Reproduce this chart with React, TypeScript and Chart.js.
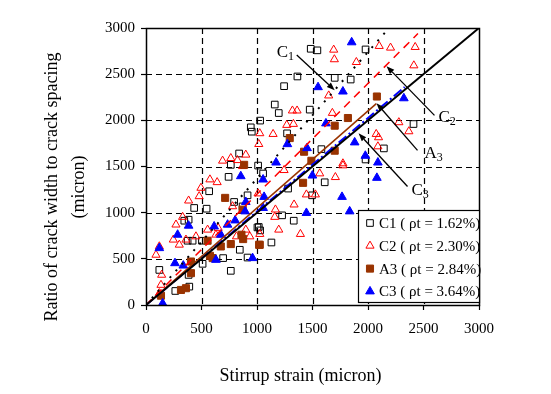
import React, { useEffect, useRef } from "react";
import { Chart, registerables } from "chart.js";

Chart.register(...registerables);

const FONT = "'Liberation Serif', 'Times New Roman', serif";

// ---- data (stirrup strain, micron) vs (crack width / crack spacing, micron)
const c1Strain = [1484, 1544, 1978, 1364, 1700, 1844, 1244, 1160, 1196, 1475, 1028, 1271, 1580, 2410, 2143, 1055, 1010, 1280, 1610, 1496, 1226, 1331, 1016, 1028, 1130, 569, 744, 434, 546, 384, 345, 420, 375, 504, 510, 120, 384, 764, 695, 915, 264, 390, 794, 870, 845, 1004, 915, 944, 953, 839, 764, 1978];
const c1Ratio = [2775, 2758, 2768, 2475, 2460, 2442, 2370, 2171, 2079, 2116, 1997, 1859, 1688, 1960, 1696, 1424, 1510, 1261, 1329, 1188, 971, 913, 845, 808, 677, 1232, 1388, 1051, 1043, 924, 913, 696, 696, 696, 446, 380, 326, 370, 508, 514, 152, 199, 1116, 1068, 598, 840, 1188, 1924, 1877, 1641, 1518, 1576];

const c2Strain = [1691, 1697, 1895, 1646, 1319, 1361, 1679, 1268, 1328, 1025, 1145, 1016, 1774, 2101, 2203, 2425, 2413, 2278, 2368, 2074, 2095, 2089, 1244, 1565, 1706, 1774, 1334, 1526, 1445, 1166, 1160, 1196, 1391, 1025, 1010, 576, 495, 479, 384, 330, 270, 246, 300, 360, 450, 555, 630, 899, 935, 90, 120, 135, 120, 780, 870, 899, 690, 764, 824, 815, 650, 141, 641];
const c2Ratio = [2764, 2660, 2630, 2268, 2105, 2105, 2079, 1949, 1960, 1859, 1851, 1742, 1533, 2804, 2786, 2793, 2594, 1978, 1880, 1851, 1815, 1717, 1460, 1424, 1384, 1511, 1087, 1196, 1196, 1033, 953, 815, 768, 768, 1207, 1359, 1268, 1177, 1130, 953, 870, 707, 652, 707, 742, 815, 761, 815, 742, 543, 634, 217, 127, 1068, 1503, 1627, 1562, 1590, 1568, 742, 834, 326, 1329];

const a3Strain = [1819, 1700, 1295, 1424, 1700, 1490, 2080, 1415, 1025, 713, 870, 555, 674, 764, 600, 860, 875, 1019, 405, 405, 360, 315, 135, 884, 576];
const a3Ratio = [2025, 1942, 1808, 1660, 1671, 1562, 2258, 1323, 652, 1160, 1033, 696, 634, 660, 508, 761, 714, 652, 471, 345, 182, 163, 101, 1518, 533];

const c3Strain = [1853, 1550, 1774, 1621, 1880, 1274, 1451, 1976, 1172, 2323, 2089, 2080, 1499, 1766, 1835, 1445, 1064, 1055, 1055, 854, 120, 261, 336, 384, 285, 614, 735, 803, 674, 630, 899, 893, 960, 150];
const c3Ratio = [2845, 2359, 2312, 1967, 1761, 1742, 1699, 1616, 1543, 2239, 1543, 1377, 1402, 1171, 1014, 997, 1171, 1051, 1359, 1395, 616, 453, 427, 859, 761, 851, 870, 916, 761, 489, 1116, 1014, 508, 18];

// fitted trend lines (end points)
const c1FitX = [0, 2190];
const c1FitY = [0, 3000];
const c2FitX = [0, 2450];
const c2FitY = [0, 2940];
const a3FitX = [0, 2075];
const a3FitY = [0, 2180];
const c3FitX = [0, 2330];
const c3FitY = [0, 2360];
const equalX = [0, 3000];
const equalY = [0, 3000];

const xTicks = [0, 500, 1000, 1500, 2000, 2500, 3000];
const yTicks = [0, 500, 1000, 1500, 2000, 2500, 3000];

const seriesNames = ["C1 ( ρt = 1.62%)", "C2 ( ρt = 2.30%)", "A3 ( ρt = 2.84%)", "C3 ( ρt = 3.64%)"];

// annotations: letter, subscript, label anchor, arrow tail, arrow head (data units)
const annLetter = ["C", "C", "A", "C"];
const annSub = ["1", "2", "3", "3"];
const annLabelX = [1178, 2635, 2509, 2392];
const annLabelY = [2685, 1978, 1590, 1196];
const annTailX = [1358, 2599, 2446, 2356];
const annTailY = [2707, 2054, 1674, 1283];
const annHeadX = [1700, 2167, 2077, 1915];
const annHeadY = [2326, 2587, 2185, 1859];

const RED = "#ff0000";
const BROWN = "#993300";
const BLUE = "#0000ff";

const zip = (xs: number[], ys: number[]) => xs.map((x, i) => ({ x, y: ys[i] }));

function drawMarker(ctx: CanvasRenderingContext2D, kind: number, cx: number, cy: number) {
  const r = kind >= 2 ? 5 : 4.7;
  ctx.save();
  ctx.lineWidth = 1;
  ctx.beginPath();
  if (kind === 0 || kind === 2) {
    const s = Math.SQRT1_2 * r;
    ctx.rect(cx - s, cy - s, 2 * s, 2 * s);
  } else {
    ctx.moveTo(cx, cy - r);
    ctx.lineTo(cx + r * Math.cos(Math.PI / 6), cy + r * 0.5);
    ctx.lineTo(cx - r * Math.cos(Math.PI / 6), cy + r * 0.5);
    ctx.closePath();
  }
  const col = ["#000000", RED, BROWN, BLUE][kind];
  ctx.strokeStyle = col;
  if (kind >= 2) {
    ctx.fillStyle = col;
    ctx.fill();
  }
  ctx.stroke();
  ctx.restore();
}

const overlay = {
  id: "overlay",
  beforeDatasetsDraw(chart: any) {
    const { ctx, chartArea: a, scales } = chart;
    const xs = scales.x;
    const ys = scales.y;
    ctx.save();
    ctx.strokeStyle = "#000";
    ctx.lineWidth = 1.2;
    ctx.setLineDash([6, 4]);
    for (const v of xTicks) {
      if (v <= 0 || v >= 3000) continue;
      const px = Math.round(xs.getPixelForValue(v)) + 0.5;
      ctx.beginPath();
      ctx.moveTo(px, a.top);
      ctx.lineTo(px, a.bottom);
      ctx.stroke();
    }
    for (const v of yTicks) {
      if (v <= 0 || v >= 3000) continue;
      const py = Math.round(ys.getPixelForValue(v)) + 0.5;
      ctx.beginPath();
      ctx.moveTo(a.left, py);
      ctx.lineTo(a.right, py);
      ctx.stroke();
    }
    ctx.restore();
  },
  afterDraw(chart: any) {
    const { ctx, chartArea: a, scales } = chart;
    const xs = scales.x;
    const ys = scales.y;
    ctx.save();
    // frame
    ctx.strokeStyle = "#000";
    ctx.lineWidth = 1.5;
    ctx.setLineDash([]);
    ctx.strokeRect(Math.round(a.left) + 0.5, Math.round(a.top) + 0.5, Math.round(a.right - a.left), Math.round(a.bottom - a.top));

    // annotation arrows and labels
    for (let i = 0; i < annLetter.length; i++) {
      const tx = xs.getPixelForValue(annTailX[i]);
      const ty = ys.getPixelForValue(annTailY[i]);
      const hx = xs.getPixelForValue(annHeadX[i]);
      const hy = ys.getPixelForValue(annHeadY[i]);
      const ang = Math.atan2(hy - ty, hx - tx);
      const L = 8;
      const W = 3;
      const bx = hx - L * Math.cos(ang);
      const by = hy - L * Math.sin(ang);
      ctx.strokeStyle = "#000";
      ctx.lineWidth = 1.3;
      ctx.beginPath();
      ctx.moveTo(tx, ty);
      ctx.lineTo(bx, by);
      ctx.stroke();
      ctx.fillStyle = "#000";
      ctx.beginPath();
      ctx.moveTo(hx, hy);
      ctx.lineTo(bx + W * Math.sin(ang), by - W * Math.cos(ang));
      ctx.lineTo(bx - W * Math.sin(ang), by + W * Math.cos(ang));
      ctx.closePath();
      ctx.fill();

      const lx = xs.getPixelForValue(annLabelX[i]);
      const ly = ys.getPixelForValue(annLabelY[i]);
      ctx.fillStyle = "#000";
      ctx.textAlign = "left";
      ctx.textBaseline = "alphabetic";
      ctx.font = `17px ${FONT}`;
      ctx.fillText(annLetter[i], lx, ly);
      const w = ctx.measureText(annLetter[i]).width;
      ctx.font = `12px ${FONT}`;
      ctx.fillText(annSub[i], lx + w, ly + 3);
    }

    // legend box
    const bw = 121;
    const bh = 92;
    const bl = Math.round(a.right) - bw;
    const bt = Math.round(a.bottom) - bh - 3;
    ctx.fillStyle = "#fff";
    ctx.fillRect(bl, bt, bw, bh);
    ctx.strokeStyle = "#000";
    ctx.lineWidth = 1.2;
    ctx.strokeRect(bl + 0.5, bt + 0.5, bw, bh);
    ctx.font = `15px ${FONT}`;
    ctx.textBaseline = "middle";
    ctx.textAlign = "left";
    for (let i = 0; i < seriesNames.length; i++) {
      const cy = bt + 13 + i * 22.8;
      drawMarker(ctx, i, bl + 12, cy);
      ctx.fillStyle = "#000";
      ctx.fillText(seriesNames[i], bl + 21, cy + 1);
    }

    // axis titles
    ctx.fillStyle = "#000";
    ctx.font = `18px ${FONT}`;
    ctx.textAlign = "center";
    ctx.textBaseline = "middle";
    ctx.fillText("Stirrup strain (micron)", (a.left + a.right) / 2 - 12, 376);
    ctx.save();
    ctx.translate(52, 187);
    ctx.rotate(-Math.PI / 2);
    ctx.fillText("Ratio of crack width to crack spacing", 0, 0);
    ctx.restore();
    ctx.save();
    ctx.translate(79, 187);
    ctx.rotate(-Math.PI / 2);
    ctx.fillText("(micron)", 0, 0);
    ctx.restore();
    ctx.restore();
  },
};

export default function App() {
  const ref = useRef<HTMLCanvasElement | null>(null);

  useEffect(() => {
    if (!ref.current) return;
    const lineDs = (xs: number[], ys: number[], color: string, dash: number[], width: number) => ({
      type: "line" as const,
      data: zip(xs, ys),
      borderColor: color,
      borderWidth: width,
      borderDash: dash,
      pointRadius: 0,
      showLine: true,
      fill: false,
      tension: 0,
      order: 0,
    });
    const chart = new Chart(ref.current, {
      type: "scatter",
      data: {
        datasets: [
          lineDs(equalX, equalY, "#000000", [], 2),
          lineDs(c1FitX, c1FitY, "#000000", [2, 7], 2),
          lineDs(c2FitX, c2FitY, RED, [8, 6], 1.5),
          lineDs(a3FitX, a3FitY, BROWN, [], 1.6),
          lineDs(c3FitX, c3FitY, BLUE, [10, 3, 2, 3], 2),
          {
            label: seriesNames[0],
            data: zip(c1Strain, c1Ratio),
            pointStyle: "rect",
            pointRadius: 4.7,
            borderColor: "#000000",
            backgroundColor: "rgba(0,0,0,0)",
            borderWidth: 1,
            order: 4,
          },
          {
            label: seriesNames[1],
            data: zip(c2Strain, c2Ratio),
            pointStyle: "triangle",
            pointRadius: 4.7,
            borderColor: RED,
            backgroundColor: "rgba(0,0,0,0)",
            borderWidth: 1,
            order: 3,
          },
          {
            label: seriesNames[2],
            data: zip(a3Strain, a3Ratio),
            pointStyle: "rect",
            pointRadius: 5,
            borderColor: BROWN,
            backgroundColor: BROWN,
            borderWidth: 1,
            order: 2,
          },
          {
            label: seriesNames[3],
            data: zip(c3Strain, c3Ratio),
            pointStyle: "triangle",
            pointRadius: 5,
            borderColor: BLUE,
            backgroundColor: BLUE,
            borderWidth: 1,
            order: 1,
          },
        ] as any,
      },
      options: {
        responsive: false,
        animation: false,
        devicePixelRatio: 1,
        layout: { padding: { left: 0, top: 28, right: 72, bottom: 0 } },
        plugins: { legend: { display: false }, tooltip: { enabled: false } },
        scales: {
          x: {
            type: "linear",
            min: 0,
            max: 3000,
            afterBuildTicks: (s: any) => {
              s.ticks = xTicks.map((v) => ({ value: v }));
            },
            afterFit: (s: any) => {
              s.height = 89;
            },
            ticks: {
              color: "#000",
              font: { family: FONT, size: 15 },
              padding: 10,
              maxRotation: 0,
              autoSkip: false,
              callback: (v: any) => String(v),
            },
            grid: { display: true, drawOnChartArea: false, drawTicks: true, tickLength: 5, tickColor: "#000", tickWidth: 1.2 },
            border: { display: false },
          },
          y: {
            type: "linear",
            min: 0,
            max: 3000,
            afterBuildTicks: (s: any) => {
              s.ticks = yTicks.map((v) => ({ value: v }));
            },
            afterFit: (s: any) => {
              s.width = 146;
            },
            ticks: {
              color: "#000",
              font: { family: FONT, size: 15 },
              padding: 6,
              autoSkip: false,
              callback: (v: any) => String(v),
            },
            grid: { display: true, drawOnChartArea: false, drawTicks: true, tickLength: 5, tickColor: "#000", tickWidth: 1.2 },
            border: { display: false },
          },
        },
      },
      plugins: [overlay],
    });
    return () => chart.destroy();
  }, []);

  return (
    <div style={{ position: "fixed", left: 0, top: 0, width: 551, height: 394, background: "#fff" }}>
      <canvas ref={ref} width={551} height={394} style={{ display: "block" }} />
    </div>
  );
}
